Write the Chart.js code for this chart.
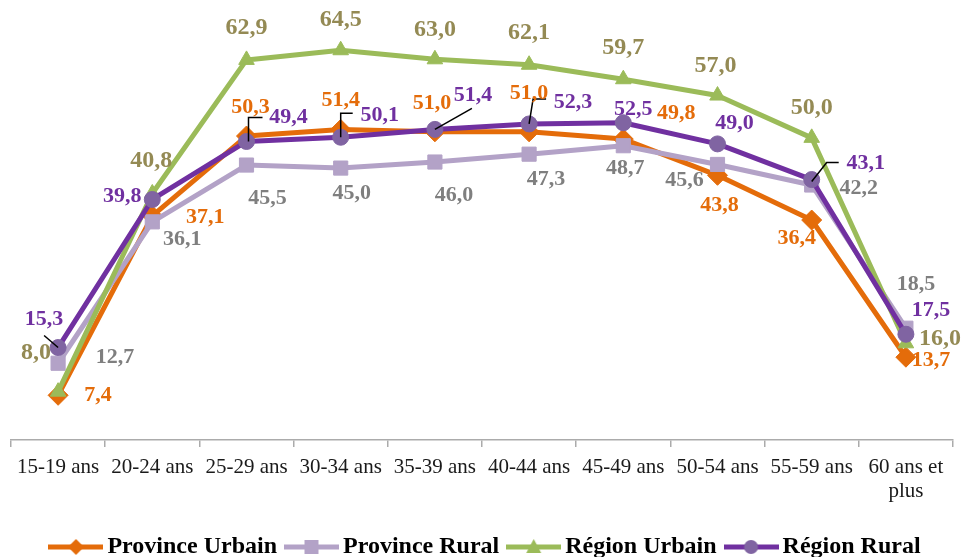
<!DOCTYPE html>
<html>
<head>
<meta charset="utf-8">
<script src="https://cdn.jsdelivr.net/npm/chart.js@4.4.1/dist/chart.umd.min.js"></script>
<style>
html,body{margin:0;padding:0;background:#ffffff;}
#wrap{width:964px;height:557px;position:relative;}
</style>
</head>
<body>
<div id="wrap"><canvas id="c" width="964" height="557"></canvas></div>
<script>
// ---- DATA ----
const categories = ['15-19 ans', '20-24 ans', '25-29 ans', '30-34 ans', '35-39 ans', '40-44 ans', '45-49 ans', '50-54 ans', '55-59 ans', ['60 ans et', 'plus']];
const seriesNames = ['Province Urbain', 'Province Rural', 'Région Urbain', 'Région Rural'];
const provinceUrbain = [7.4, 37.1, 50.3, 51.4, 51.0, 51.0, 49.8, 43.8, 36.4, 13.7];
const provinceRural  = [12.7, 36.1, 45.5, 45.0, 46.0, 47.3, 48.7, 45.6, 42.2, 18.5];
const regionUrbain   = [8.0, 40.8, 62.9, 64.5, 63.0, 62.1, 59.7, 57.0, 50.0, 16.0];
const regionRural    = [15.3, 39.8, 49.4, 50.1, 51.4, 52.3, 52.5, 49.0, 43.1, 17.5];

// ---- STYLE / LAYOUT (label offsets relative to each point) ----
const lineColors  = ['#E46C0A', '#B3A2C7', '#9BBB59', '#7030A0'];
const markerFill  = ['#E46C0A', '#B3A2C7', '#9BBB59', '#8064A2'];
const labelColors = ['#E46C0A', '#7F7F7F', '#948A54', '#7030A0'];
const labelSizes  = [22, 22, 24, 22];
const pointStyles = ['rectRot', 'rect', 'triangle', 'circle'];
const pointRadii  = [10, 10, 9, 8];
const labelOffsets = [
  [[40,0],[53,2],[4,-29],[0,-29],[-3,-29],[0,-39],[53,-26],[2,30],[-15,18],[25,3]],
  [[57,-6],[30,17],[21,33],[11,25],[19,33],[17,25],[2,23],[-33,16],[47,3],[10,-44]],
  [[-22,-39],[-1,-33],[0,-32],[0,-30],[0,-30],[0,-32],[0,-31],[-2,-30],[0,-30],[34,-5]],
  [[-14,-28],[-30,-3],[42,-24],[39,-22],[38,-34],[44,-22],[10,-13],[17,-21],[54,-16],[25,-24]]
];
// leader lines (series 3 = Région Rural), polyline points relative to the marker
const leaders = {
  3: {
    0: [[0,0],[-14,-12]],
    2: [[2,0],[2,-24],[16,-24]],
    3: [[0,0],[0,-24],[12,-24]],
    4: [[0,0],[37,-21]],
    5: [[0,0],[4,-25],[17,-25]],
    8: [[0,2],[15,-17],[27,-17]]
  }
};

const serif = "'Liberation Serif', 'Times New Roman', Times, serif";

function makeIcon(i) {
  const cv = document.createElement('canvas');
  cv.width = 55; cv.height = 22;
  const g = cv.getContext('2d');
  g.strokeStyle = lineColors[i];
  g.lineWidth = 5;
  g.beginPath(); g.moveTo(0, 11); g.lineTo(55, 11); g.stroke();
  g.fillStyle = markerFill[i];
  const cx = 27.5, cy = 11;
  g.beginPath();
  if (i === 0) { g.moveTo(cx, cy - 8); g.lineTo(cx + 8, cy); g.lineTo(cx, cy + 8); g.lineTo(cx - 8, cy); g.closePath(); }
  else if (i === 1) { g.rect(cx - 7, cy - 7, 14, 14); }
  else if (i === 2) { g.moveTo(cx, cy - 8); g.lineTo(cx + 7.5, cy + 6); g.lineTo(cx - 7.5, cy + 6); g.closePath(); }
  else { g.arc(cx, cy, 7, 0, Math.PI * 2); }
  g.fill();
  return cv;
}
const icons = [0,1,2,3].map(makeIcon);

const legendShift = {
  id: 'legendShift',
  afterLayout(chart) {
    if (chart.legend) { chart.legend.left += 6; chart.legend.right += 6; }
  }
};

const dataLabelPlugin = {
  id: 'dataLabelPlugin',
  afterDatasetsDraw(chart) {
    const ctx = chart.ctx;
    ctx.save();
    // leaders
    ctx.strokeStyle = '#000000';
    ctx.lineWidth = 1.5;
    Object.keys(leaders).forEach(ds => {
      const meta = chart.getDatasetMeta(+ds);
      Object.keys(leaders[ds]).forEach(idx => {
        const el = meta.data[+idx];
        const pts = leaders[ds][idx];
        ctx.beginPath();
        pts.forEach((p, k) => {
          if (k === 0) ctx.moveTo(el.x + p[0], el.y + p[1]); else ctx.lineTo(el.x + p[0], el.y + p[1]);
        });
        ctx.stroke();
      });
    });
    // labels
    ctx.textAlign = 'center';
    ctx.textBaseline = 'middle';
    chart.data.datasets.forEach((ds, di) => {
      const meta = chart.getDatasetMeta(di);
      ctx.font = 'bold ' + labelSizes[di] + 'px ' + serif;
      ctx.fillStyle = labelColors[di];
      meta.data.forEach((el, i) => {
        const v = ds.data[i];
        const off = labelOffsets[di][i];
        ctx.fillText(v.toFixed(1).replace('.', ','), el.x + off[0], el.y + off[1]);
      });
    });
    ctx.restore();
  }
};

const seriesData = [provinceUrbain, provinceRural, regionUrbain, regionRural];
const datasets = seriesData.map((d, i) => ({
  label: seriesNames[i],
  data: d,
  borderColor: lineColors[i],
  backgroundColor: markerFill[i],
  borderWidth: 5,
  tension: 0,
  borderJoinStyle: 'round',
  pointStyle: pointStyles[i],
  pointRadius: pointRadii[i],
  pointHoverRadius: pointRadii[i],
  pointBackgroundColor: markerFill[i],
  pointBorderColor: markerFill[i],
  pointBorderWidth: 1,
  clip: false,
  order: 4 - i
}));

new Chart(document.getElementById('c'), {
  type: 'line',
  data: { labels: categories, datasets: datasets },
  options: {
    responsive: false,
    animation: false,
    events: [],
    layout: { padding: { top: 17, left: 10, right: 9, bottom: -12 } },
    plugins: {
      tooltip: { enabled: false },
      legend: {
        display: true,
        position: 'bottom',
        labels: {
          usePointStyle: true,
          pointStyleWidth: 39,
          padding: 15,
          color: '#000000',
          font: { family: serif, size: 24, weight: 'bold' },
          sort: (a, b) => a.datasetIndex - b.datasetIndex,
          generateLabels(chart) {
            const items = Chart.defaults.plugins.legend.labels.generateLabels(chart);
            items.forEach(it => { it.pointStyle = icons[it.datasetIndex]; });
            return items;
          }
        }
      }
    },
    scales: {
      x: {
        offset: true,
        grid: { offset: true, drawOnChartArea: false, drawTicks: true, tickLength: 7, color: '#ABABAB', lineWidth: 1.5 },
        border: { display: true, color: '#ABABAB', width: 1.5 },
        ticks: {
          autoSkip: false, maxRotation: 0, minRotation: 0, padding: 8,
          color: '#1a1a1a',
          font: { family: serif, size: 21, lineHeight: 1.15 }
        },
        afterFit(scale) { scale.height = 80; }
      },
      y: { display: false, min: 0, max: 70 }
    }
  },
  plugins: [dataLabelPlugin, legendShift]
});
</script>
</body>
</html>
